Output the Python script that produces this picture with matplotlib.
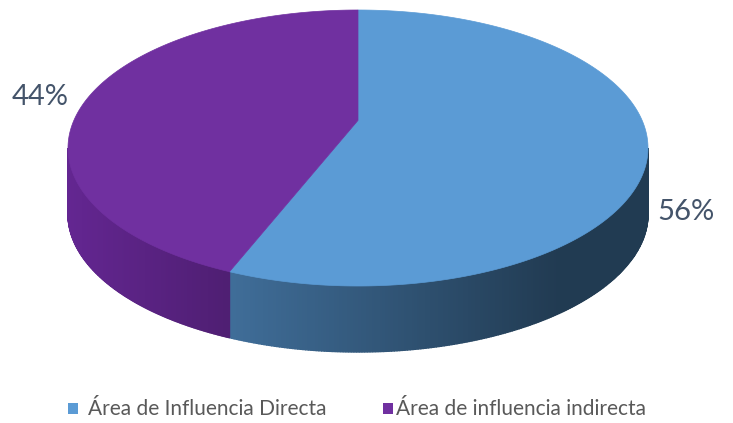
import numpy as np
import matplotlib.pyplot as plt
from matplotlib.patches import Polygon, Rectangle

labels = ['Área de Influencia Directa', 'Área de influencia indirecta']
values = [56, 44]
top_colors = ['#5b9bd5', '#7030a0']
# wall shading: colour at the left end and at the right end of each slice's wall
wall_left = [(0.25, 0.43, 0.60), (0.39, 0.15, 0.57)]
wall_right = [(0.13, 0.23, 0.32), (0.31, 0.12, 0.45)]

W, H = 733, 423
fig = plt.figure(figsize=(W / 100, H / 100), dpi=100)
ax = fig.add_axes([0, 0, 1, 1])
ax.set_xlim(0, W)
ax.set_ylim(H, 0)
ax.axis('off')

# outline ellipse in pixel units (y grows downward)
cx, cy = 358, 148
a, b = 290, 138
depth = 66
# perspective: the disc centre sits above the ellipse centre
t = 0.2
s = np.arctanh(t)
ch, sh = np.cosh(s), np.sinh(s)


def to_phi(theta_deg):
    # map an angle on the disc to the parametric angle on the outline ellipse
    th = np.radians(theta_deg)
    w = np.sin(th) * sh + ch
    x = np.cos(th) / w
    y = (np.sin(th) * ch + sh) / w
    return np.degrees(np.arctan2(y, x))


def pt(phi_deg, dy=0.0):
    p = np.radians(phi_deg)
    return cx + a * np.cos(p), cy - b * np.sin(p) + dy


# slices start at 12 o'clock and run clockwise
total = float(sum(values))
starts, ends = [], []
ang = 90.0
for v in values:
    starts.append(ang)
    ang -= 360.0 * v / total
    ends.append(ang)

# unwrap the mapped angles so each slice runs downward from its start
phi_s, phi_e = [], []
for i in range(len(values)):
    p0 = to_phi(starts[i])
    p1 = to_phi(ends[i])
    while p1 > p0:
        p1 -= 360
    while p0 - p1 > 360:
        p1 += 360
    phi_s.append(p0)
    phi_e.append(p1)

# side walls (only the front half, 180..360 deg, is visible)
for i in range(len(values)):
    lo, hi = phi_e[i], phi_s[i]
    segs = []
    for off in (0, 360, -360, 720):
        s0, s1 = max(lo + off, 180), min(hi + off, 360)
        if s1 > s0:
            segs.append((s0, s1))
    for s0, s1 in segs:
        th = np.linspace(s0, s1, 220)
        for k in range(len(th) - 1):
            x0, y0 = pt(th[k])
            x1, y1 = pt(th[k + 1])
            xm = 0.5 * (x0 + x1)
            if i == 1:
                f = np.clip((xm - (cx - a)) / 160.0, 0, 1)
            else:
                f = np.clip((xm - 230) / 330.0, 0, 1)
            c = tuple(np.array(wall_left[i]) * (1 - f) + np.array(wall_right[i]) * f)
            quad = [(x0, y0), (x1, y1), (x1, y1 + depth), (x0, y0 + depth)]
            ax.add_patch(Polygon(quad, closed=True, facecolor=c,
                                 edgecolor=c, linewidth=1.0))

# top face
centre = (cx, cy - t * b)
for i in range(len(values)):
    ph = np.linspace(phi_s[i], phi_e[i], 300)
    xs, ys = pt(ph)
    poly = [centre] + list(zip(xs, ys))
    ax.add_patch(Polygon(poly, closed=True, facecolor=top_colors[i],
                         edgecolor=top_colors[i], linewidth=0.5))

# percentage labels
font = ['Lato', 'DejaVu Sans']
pct = [f'{v}%' for v in values]
ax.text(686, 212, pct[0], fontsize=21, color='#44546a', family=font,
        ha='center', va='center')
ax.text(40, 97, pct[1], fontsize=21, color='#44546a', family=font,
        ha='center', va='center')

# legend
box_x = [68, 383]
text_x = [88, 396]
for i in range(len(values)):
    ax.add_patch(Rectangle((box_x[i], 403), 10, 11, facecolor=top_colors[i],
                           edgecolor='none'))
    ax.text(text_x[i], 409, labels[i], fontsize=15, color='#595959',
            family=font, ha='left', va='center')

fig.savefig('out.png', dpi=100, facecolor='white')
